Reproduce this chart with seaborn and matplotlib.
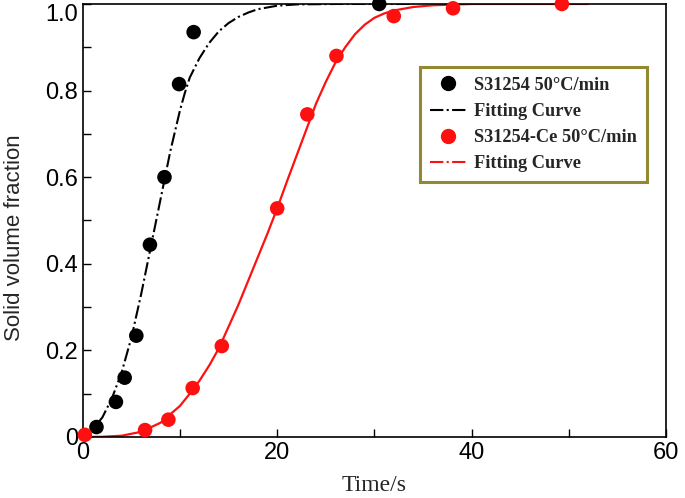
import matplotlib
matplotlib.use("Agg")
import matplotlib.pyplot as plt
from matplotlib.lines import Line2D
from matplotlib.ticker import MultipleLocator
import seaborn as sns
import pandas as pd

# measured points
t_base = [1.4, 3.4, 4.3, 5.5, 6.9, 8.4, 9.9, 11.4, 30.5]
f_base = [0.023, 0.081, 0.137, 0.234, 0.444, 0.60, 0.815, 0.935, 1.0]

t_ce = [0.2, 6.4, 8.8, 11.3, 14.3, 20.0, 23.1, 26.1, 32.0, 38.1, 49.3]
f_ce = [0.005, 0.016, 0.04, 0.113, 0.21, 0.528, 0.745, 0.88, 0.972, 0.99, 1.0]

# fitting curves
t_fit_base = [0, 1, 2, 3, 4, 5, 6, 7, 8, 9, 10, 10.5, 11, 12, 13, 14, 15, 16,
              17, 18, 20, 22, 26, 34]
f_fit_base = [0.0, 0.018, 0.045, 0.09, 0.15, 0.23, 0.33, 0.44, 0.55, 0.66, 0.755,
              0.795, 0.83, 0.875, 0.91, 0.937, 0.956, 0.97, 0.98, 0.988, 0.996,
              0.999, 1.0, 1.0]

t_fit_ce = [0, 2, 4, 6, 8, 10, 11, 12, 13, 14, 15, 16, 17, 18, 19, 20, 21, 22,
            23, 24, 25, 26, 27, 28, 29, 30, 31, 32, 34, 36, 40, 52]
f_fit_ce = [0.0, 0.0005, 0.003, 0.012, 0.033, 0.072, 0.1, 0.13, 0.165, 0.205,
            0.255, 0.305, 0.36, 0.415, 0.47, 0.528, 0.59, 0.65, 0.71, 0.77, 0.82,
            0.865, 0.9, 0.93, 0.952, 0.968, 0.978, 0.985, 0.993, 0.997, 1.0, 1.0]

base_df = pd.DataFrame({'t': t_base, 'f': f_base})
ce_df = pd.DataFrame({'t': t_ce, 'f': f_ce})
fit_base_df = pd.DataFrame({'t': t_fit_base, 'f': f_fit_base})
fit_ce_df = pd.DataFrame({'t': t_fit_ce, 'f': f_fit_ce})

sns.set_style("ticks")
plt.rcParams['font.family'] = ['Liberation Sans', 'DejaVu Sans']

fig = plt.figure(figsize=(6.85, 4.98), dpi=100)
ax = fig.add_axes([0.121, 0.1225, 0.851, 0.8695])

# fitting curves
sns.lineplot(data=fit_base_df, x='t', y='f', ax=ax, color='black',
             linestyle='-.', linewidth=1.5, sort=False, zorder=2)
sns.lineplot(data=fit_ce_df, x='t', y='f', ax=ax, color='#ff1010',
             linewidth=1.6, sort=False, zorder=2)

# data points
sns.scatterplot(data=base_df, x='t', y='f', ax=ax, color='black', s=110,
                edgecolor='none', zorder=3, clip_on=False)
sns.scatterplot(data=ce_df, x='t', y='f', ax=ax, color='#ff1010', s=110,
                edgecolor='none', zorder=3, clip_on=False)

ax.set_xlim(0, 60)
ax.set_ylim(0, 1.0)
ax.xaxis.set_major_locator(MultipleLocator(20))
ax.xaxis.set_minor_locator(MultipleLocator(10))
ax.yaxis.set_minor_locator(MultipleLocator(0.1))
ax.set_yticks([0, 0.2, 0.4, 0.6, 0.8, 1.0])
ax.set_yticklabels(['0', '0.2', '0.4', '0.6', '0.8', '1.0'])
ax.get_yticklabels()[-1].set_verticalalignment('top')
ax.tick_params(which='both', direction='in', top=False, right=False,
               labelsize=17, width=1, colors='black')
ax.tick_params(which='major', length=6)
ax.tick_params(which='minor', length=6)

for sp in ax.spines.values():
    sp.set_linewidth(1.2)
    sp.set_color('black')

ax.set_xlabel('Time/s', family=['Liberation Serif'], fontsize=17, labelpad=8)
ax.set_ylabel('Solid volume fraction', fontsize=16)
ax.yaxis.set_label_coords(-0.1, 0.46)

# legend
handles = [
    Line2D([], [], marker='o', color='black', linestyle='none', markersize=10),
    Line2D([], [], color='black', linestyle='-.', linewidth=1.5),
    Line2D([], [], marker='o', color='#ff1010', linestyle='none', markersize=10),
    Line2D([], [], color='#ff1010', linestyle='-.', linewidth=1.5),
]
labels = ['S31254 50°C/min', 'Fitting Curve', 'S31254-Ce 50°C/min', 'Fitting Curve']
leg = ax.legend(handles, labels, loc='upper left', bbox_to_anchor=(0.578, 0.855),
                borderaxespad=0, frameon=True, fancybox=False, handlelength=2.0,
                handletextpad=0.4, borderpad=0.55, labelspacing=0.5,
                prop={'family': 'Liberation Serif', 'weight': 'bold', 'size': 13.2})
leg.get_frame().set_edgecolor('#7a6c00')
leg.get_frame().set_linewidth(2.2)

fig.savefig('out.png', dpi=100)
